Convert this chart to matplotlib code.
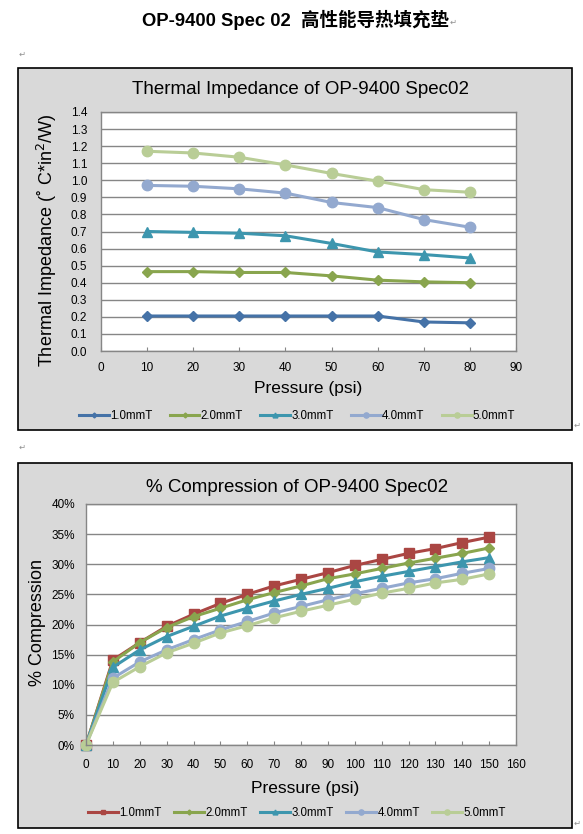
import matplotlib
matplotlib.use("Agg")
import matplotlib.pyplot as plt
from matplotlib.patches import Rectangle
from matplotlib.ticker import FuncFormatter

W, H = 583, 834

# thermal impedance data
ti_pressure = [10, 20, 30, 40, 50, 60, 70, 80]
ti_1mm = [0.205, 0.205, 0.205, 0.205, 0.205, 0.205, 0.17, 0.165]
ti_2mm = [0.465, 0.465, 0.46, 0.46, 0.44, 0.415, 0.405, 0.40]
ti_3mm = [0.70, 0.695, 0.69, 0.675, 0.63, 0.58, 0.565, 0.545]
ti_4mm = [0.97, 0.965, 0.95, 0.925, 0.87, 0.84, 0.77, 0.725]
ti_5mm = [1.17, 1.16, 1.135, 1.09, 1.04, 0.995, 0.945, 0.93]

# compression data (%)
cp_pressure = [0, 10, 20, 30, 40, 50, 60, 70, 80, 90, 100, 110, 120, 130, 140, 150]
cp_1mm = [0, 14.1, 17.0, 19.7, 21.7, 23.5, 25.0, 26.4, 27.5, 28.6, 29.8, 30.8, 31.8, 32.6, 33.6, 34.5]
cp_2mm = [0, 13.8, 17.0, 19.5, 21.3, 22.7, 24.1, 25.3, 26.4, 27.6, 28.4, 29.3, 30.2, 31.0, 31.8, 32.7]
cp_3mm = [0, 12.9, 15.8, 18.0, 19.7, 21.4, 22.7, 23.9, 25.0, 26.0, 27.1, 28.0, 28.8, 29.6, 30.4, 31.1]
cp_4mm = [0, 11.1, 13.8, 15.8, 17.5, 19.1, 20.5, 21.9, 23.0, 24.1, 25.1, 26.0, 26.9, 27.6, 28.5, 29.3]
cp_5mm = [0, 10.4, 13.0, 15.3, 16.9, 18.6, 19.8, 21.1, 22.2, 23.2, 24.2, 25.2, 26.0, 26.9, 27.5, 28.4]

labels = ["1.0mmT", "2.0mmT", "3.0mmT", "4.0mmT", "5.0mmT"]

plt.rcParams["font.family"] = ["Liberation Sans", "Noto Sans CJK SC", "DejaVu Sans"]

fig = plt.figure(figsize=(W / 100, H / 100), dpi=100)
fig.patch.set_facecolor("white")


def box(x0, y0, x1, y1):
    return [x0 / W, 1 - y1 / H, (x1 - x0) / W, (y1 - y0) / H]


def fx(x):
    return x / W


def fy(y):
    return 1 - y / H


# page title and paragraph marks
fig.text(fx(296), fy(20), "OP-9400 Spec 02  高性能导热填充垫", ha="center", va="center",
         fontsize=13.3, fontweight="bold")
mark = dict(fontsize=6, color="#909090", family="DejaVu Sans", ha="center", va="center")
fig.text(fx(453), fy(22), "↵", **mark)
fig.text(fx(22), fy(54), "↵", **mark)
fig.text(fx(577), fy(425), "↵", **mark)
fig.text(fx(22), fy(447), "↵", **mark)
fig.text(fx(577), fy(823), "↵", **mark)

# gray chart backgrounds
for (x0, y0, x1, y1) in [(18, 68, 572, 430), (18, 463, 572, 828)]:
    fig.patches.append(Rectangle((fx(x0), fy(y1)), (x1 - x0) / W, (y1 - y0) / H,
                                 transform=fig.transFigure, facecolor="#d9d9d9",
                                 edgecolor="black", linewidth=1.2, zorder=-5))


def style_axes(ax, xpad, ypad):
    ax.set_zorder(2)
    ax.set_facecolor("white")
    for s in ax.spines.values():
        s.set_color("#868686")
        s.set_linewidth(1)
    ax.grid(axis="y", color="#868686", linewidth=1)
    ax.set_axisbelow(True)
    ax.tick_params(axis="x", direction="in", length=3, color="#868686",
                   labelsize=8.5, pad=xpad)
    ax.tick_params(axis="y", length=0, labelsize=8.5, pad=ypad)


# chart 1
ax1 = fig.add_axes(box(101, 112, 516, 351))
style_axes(ax1, 8, 10)
c1 = ["#4572A7", "#89A54E", "#3D96AE", "#93A9CF", "#B9CD96"]
m1 = [("D", 5), ("D", 5), ("^", 7), ("o", 7.5), ("o", 7.5)]
for ys, col, (mk, ms), lab in zip([ti_1mm, ti_2mm, ti_3mm, ti_4mm, ti_5mm], c1, m1, labels):
    ax1.plot(ti_pressure, ys, color=col, marker=mk, markersize=ms, linewidth=2.2, label=lab)
ax1.set_xlim(0, 90)
ax1.set_ylim(0, 1.4)
ax1.set_xticks(range(0, 91, 10))
ax1.set_yticks([i / 10 for i in range(15)])
ax1.yaxis.set_major_formatter(FuncFormatter(lambda v, p: "%.1f" % v))
fig.text(fx(300), fy(90), "Thermal Impedance of OP-9400 Spec02", ha="center", va="center", fontsize=13.5)
fig.text(fx(47), fy(240), "Thermal Impedance (˚ C*in$^2$/W)", ha="center", va="center",
         rotation=90, fontsize=13)
fig.text(fx(308), fy(388), "Pressure (psi)", ha="center", va="center", fontsize=12.5)
fig.legend(*ax1.get_legend_handles_labels(), loc="center", bbox_to_anchor=(fx(297), fy(416)),
           ncol=5, frameon=False, fontsize=8.3, handlelength=2.6, handletextpad=0.1,
           columnspacing=1.5, markerscale=0.5)

# chart 2
ax2 = fig.add_axes(box(86, 504, 516, 745))
style_axes(ax2, 10, 8)
c2 = ["#AA4643", "#89A54E", "#3D96AE", "#93A9CF", "#B9CD96"]
m2 = [("s", 6.5), ("D", 5), ("^", 7), ("o", 7.5), ("o", 7.5)]
for ys, col, (mk, ms), lab in zip([cp_1mm, cp_2mm, cp_3mm, cp_4mm, cp_5mm], c2, m2, labels):
    ax2.plot(cp_pressure, ys, color=col, marker=mk, markersize=ms, linewidth=2.2, label=lab,
             clip_on=False)
ax2.set_xlim(0, 160)
ax2.set_ylim(0, 40)
ax2.set_xticks(range(0, 161, 10))
ax2.set_yticks(range(0, 41, 5))
ax2.yaxis.set_major_formatter(FuncFormatter(lambda v, p: "%d%%" % v))
fig.text(fx(297), fy(487), "% Compression of OP-9400 Spec02", ha="center", va="center", fontsize=13.5)
fig.text(fx(37), fy(622), "% Compression", ha="center", va="center", rotation=90, fontsize=13)
fig.text(fx(305), fy(788), "Pressure (psi)", ha="center", va="center", fontsize=12.5)
fig.legend(*ax2.get_legend_handles_labels(), loc="center", bbox_to_anchor=(fx(297), fy(813)),
           ncol=5, frameon=False, fontsize=8.3, handlelength=2.6, handletextpad=0.1,
           columnspacing=1.1, markerscale=0.5)

fig.savefig("out.png", dpi=100)
